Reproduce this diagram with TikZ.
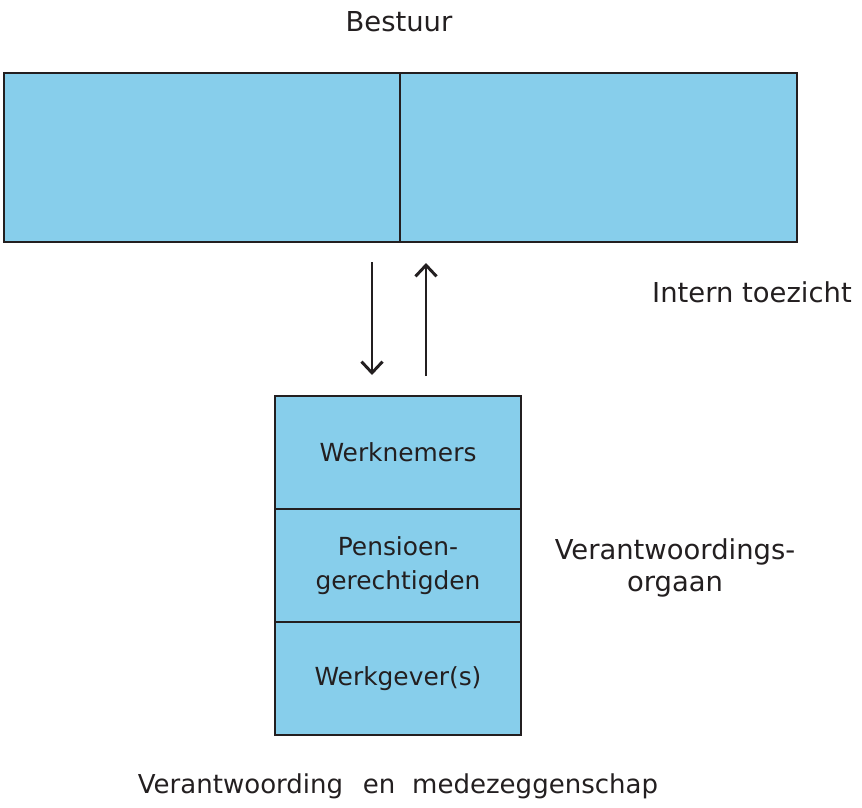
\documentclass[tikz,border=0pt]{standalone}
\usepackage{fontspec}
\setmainfont{DejaVu Sans}
\usepackage{xcolor}
\usetikzlibrary{positioning}
\usetikzlibrary{arrows.meta}
\definecolor{vak}{RGB}{135,206,235}
\definecolor{inkt}{RGB}{35,31,32}
\tikzset{blok/.style={draw=inkt,fill=vak,line width=0.9pt,inner sep=0pt,outer sep=0pt,align=center,text=inkt,font=\fontsize{17.7}{24.5}\selectfont}}
\tikzset{pijl/.style={inkt,line width=2.1pt,-{Straight Barb[length=8pt,width=15pt,line width=2.1pt]}}}
\tikzset{tekst/.style={text=inkt,align=center,font=\fontsize{19.5}{23}\selectfont}}

\begin{document}
\begin{tikzpicture}[x=0.025cm,y=-0.025cm]
            \useasboundingbox (0,0) rectangle (862,808);
            % bestuur
            \node[blok,minimum width=396*0.025cm,minimum height=169*0.025cm] (links) at (202,157.5) {};
            \node[blok,minimum width=397*0.025cm,minimum height=169*0.025cm,right=0pt of links] (rechts) {};
            \node[tekst] (bestuur) at (399,22) {Bestuur};
            % verantwoordingsorgaan
            \node[blok,minimum width=246*0.025cm,minimum height=113*0.025cm] (werknemers) at (398,452.5) {Werknemers};
            \node[blok,minimum width=246*0.025cm,minimum height=113*0.025cm,below=0pt of werknemers] (gepens) {Pensioen-\\gerechtigden};
            \node[blok,minimum width=246*0.025cm,minimum height=113*0.025cm,below=0pt of gepens] (werkgever) {Werkgever(s)};
            \node[tekst] (toezicht) at (752,292) {Intern toezicht};
            \node[tekst] (vo) at (675,568) {Verantwoordings-\\orgaan};
            \node[tekst,font=\fontsize{18.5}{23}\selectfont] (vm) at (398,786) {Verantwoording\hspace{14pt}en\hspace{12pt}medezeggenschap};
            % pijlen
            \coordinate (neer1) at (372,262);
            \coordinate (neer2) at (372,375);
            \coordinate (op1) at (426,376);
            \coordinate (op2) at (426,263);
            \draw[pijl] (neer1) -- (neer2);
            \draw[pijl] (op1) -- (op2);
        \end{tikzpicture}
\end{document}
